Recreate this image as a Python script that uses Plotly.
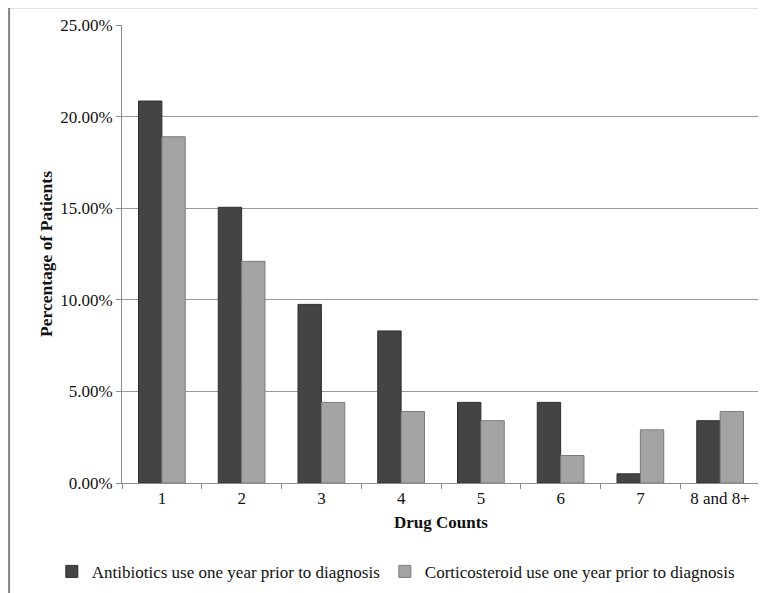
import plotly.graph_objects as go

categories = ["1", "2", "3", "4", "5", "6", "7", "8 and 8+"]
antibiotics = [20.85, 15.05, 9.75, 8.3, 4.4, 4.4, 0.5, 3.4]
corticosteroid = [18.9, 12.1, 4.4, 3.9, 3.4, 1.5, 2.9, 3.9]
series_names = ["Antibiotics use one year prior to diagnosis",
                "Corticosteroid use one year prior to diagnosis"]
y_ticks = [0, 5, 10, 15, 20, 25]

FONT = "Liberation Serif, Times New Roman, serif"

fig = go.Figure()
fig.add_trace(go.Bar(
    x=categories, y=antibiotics, name=series_names[0],
    marker=dict(color="#444444", line=dict(color="#2e2e2e", width=1)),
))
fig.add_trace(go.Bar(
    x=categories, y=corticosteroid, name=series_names[1],
    marker=dict(color="#a4a4a4", line=dict(color="#7a7a7a", width=1)),
))

fig.update_layout(
    width=766, height=593,
    margin=dict(l=114, r=14, t=17, b=118, autoexpand=False),
    paper_bgcolor="white", plot_bgcolor="white",
    barmode="group", bargap=0.414, bargroupgap=0,
    font=dict(family=FONT, size=17, color="#111"),
    showlegend=True,
    legend=dict(orientation="h", x=-0.11, xanchor="left", y=-0.194, yanchor="middle",
                font=dict(family=FONT, size=17, color="#111"), itemwidth=30,
                traceorder="normal"),
    xaxis=dict(
        title=dict(text="<b>Drug Counts</b>", standoff=8, font=dict(family=FONT, size=17)),
        showline=True, linecolor="#8c8c8c", linewidth=1,
        ticks="outside", tickson="boundaries", ticklen=5, tickcolor="#8c8c8c",
        tickfont=dict(family=FONT, size=17), automargin=False,
        showgrid=False,
    ),
    yaxis=dict(
        title=dict(text="<b>Percentage of Patients</b>", standoff=3, font=dict(family=FONT, size=17.5)),
        range=[0, 25], tickvals=y_ticks,
        ticktext=[f"{v:.2f}%" for v in y_ticks],
        tickfont=dict(family=FONT, size=17), automargin=False,
        showline=True, linecolor="#8c8c8c", linewidth=1,
        ticks="outside", ticklen=5, tickcolor="#8c8c8c",
        showgrid=True, gridcolor="#9a9a9a", gridwidth=1,
        zeroline=False,
    ),
    shapes=[dict(type="rect", xref="paper", yref="paper",
                 x0=-0.177, x1=1.05, y0=-0.3, y1=1.039,
                 line=dict(color="#858585", width=2), fillcolor="rgba(0,0,0,0)",
                 layer="below")],
)

fig.write_html("out.html")
